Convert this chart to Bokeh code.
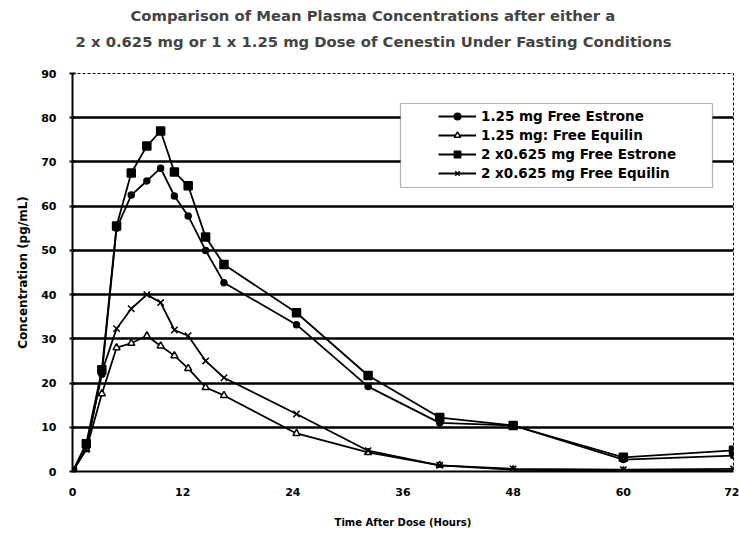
from bokeh.plotting import figure
from bokeh.models import Range1d, FixedTicker, Legend, LegendItem, Title, BoxAnnotation
from bokeh.embed import file_html
from bokeh.resources import INLINE

# ---- data ----
hours = [0, 1.5, 3.2, 4.8, 6.4, 8.1, 9.6, 11.1, 12.6, 14.5, 16.5, 24.4, 32.2, 40, 48, 60, 72]
estrone_125 = [0, 5.5, 22, 55, 62.5, 65.7, 68.6, 62.3, 57.8, 50, 42.7, 33.2, 19.2, 11, 10.4, 2.7, 3.6]
equilin_125 = [0, 5, 17.6, 28, 29, 30.7, 28.4, 26.2, 23.3, 19, 17.2, 8.6, 4.3, 1.4, 0.4, 0.2, 0.2]
estrone_2x0625 = [0, 6.3, 23, 55.5, 67.5, 73.6, 77, 67.7, 64.6, 53, 46.8, 35.9, 21.7, 12.2, 10.4, 3.2, 4.8]
equilin_2x0625 = [0, 5, 22.5, 32.3, 36.8, 40, 38.2, 32, 30.7, 25, 21.2, 13, 4.7, 1.4, 0.6, 0.4, 0.6]

series_labels = ["1.25 mg Free Estrone", "1.25 mg: Free Equilin",
                 "2 x0.625 mg Free Estrone", "2 x0.625 mg Free Equilin"]
x_ticks = [0, 12, 24, 36, 48, 60, 72]
y_ticks = [0, 10, 20, 30, 40, 50, 60, 70, 80, 90]

title_line1 = "Comparison of Mean Plasma Concentrations after either a"
title_line2 = "2 x 0.625 mg or 1 x 1.25 mg Dose of Cenestin Under Fasting Conditions"

FONT = "DejaVu Sans"

p = figure(width=739, height=535, output_backend="svg", toolbar_location=None,
           x_range=Range1d(0, 72), y_range=Range1d(0, 90),
           min_border_left=72, min_border_right=6, min_border_top=73, min_border_bottom=64)
p.background_fill_color = "white"
p.border_fill_color = "white"
p.outline_line_color = "black"
p.outline_line_width = 1
p.outline_line_dash = "3 2"

# titles (spacer closest to the frame, then line 2, then line 1)
spacer = Title(text=" ", text_font=FONT, text_font_size="13px", standoff=3)
t2 = Title(text=title_line2, align="left", offset=3, text_font=FONT, text_font_style="bold",
           text_font_size="14.8px", standoff=7)
t1 = Title(text=title_line1, align="left", offset=58, text_font=FONT, text_font_style="bold",
           text_font_size="14.8px", standoff=7)
p.add_layout(spacer, "above")
p.add_layout(t2, "above")
p.add_layout(t1, "above")

# axes
p.xaxis.ticker = FixedTicker(ticks=x_ticks)
p.yaxis.ticker = FixedTicker(ticks=y_ticks)
p.xaxis.axis_label = "Time After Dose (Hours)"
p.yaxis.axis_label = "Concentration (pg/mL)"
for ax in (p.xaxis, p.yaxis):
    ax.axis_line_color = "black"
    ax.axis_line_width = 2
    ax.major_label_text_font = FONT
    ax.major_label_text_font_style = "bold"
    ax.major_label_text_font_size = "11px"
    ax.major_label_text_color = "black"
    ax.axis_label_text_font = FONT
    ax.axis_label_text_font_style = "bold"
    ax.axis_label_text_color = "black"
    ax.minor_tick_line_color = None
p.xaxis.major_tick_in = 0
p.xaxis.major_tick_out = 0
p.xaxis.major_label_standoff = 16
p.xaxis.axis_label_standoff = 18
p.xaxis.axis_label_text_font_size = "10px"
p.yaxis.major_tick_in = 3
p.yaxis.major_tick_out = 3
p.yaxis.major_tick_line_width = 2
p.yaxis.major_tick_line_color = "black"
p.yaxis.major_label_standoff = 13
p.yaxis.axis_label_standoff = 8
p.yaxis.axis_label_text_font_size = "12px"

p.xgrid.grid_line_color = None
p.ygrid.grid_line_color = "black"
p.ygrid.grid_line_width = 2.5

# series
items = []
specs = [
    (estrone_125, "circle", 6, "black"),
    (equilin_125, "triangle", 7, "white"),
    (estrone_2x0625, "square", 8, "black"),
    (equilin_2x0625, "x", 9, "black"),
]
for (vals, marker, size, fill), label in zip(specs, series_labels):
    ln = p.line(hours, vals, line_color="black", line_width=1.8)
    mk = p.scatter(hours, vals, marker=marker, size=size, line_color="black",
                   fill_color=fill, line_width=1.5)
    items.append(LegendItem(label=label, renderers=[ln, mk]))

# legend box (frame-relative screen units)
box = BoxAnnotation(left=328, right=640, bottom=284, top=368,
                    left_units="screen", right_units="screen",
                    bottom_units="screen", top_units="screen",
                    fill_color="white", fill_alpha=1.0,
                    line_color="black", line_width=1.2, level="annotation")
p.add_layout(box)

legend = Legend(items=items, location=(366, 290), orientation="vertical",
                padding=5, margin=0, spacing=3, label_height=16, glyph_height=16,
                glyph_width=38, label_standoff=5,
                label_text_font=FONT, label_text_font_style="bold",
                label_text_font_size="13.5px", label_text_color="black",
                background_fill_alpha=0, border_line_color=None)
p.add_layout(legend, "center")

open("out.html", "w").write(file_html(p, INLINE))
